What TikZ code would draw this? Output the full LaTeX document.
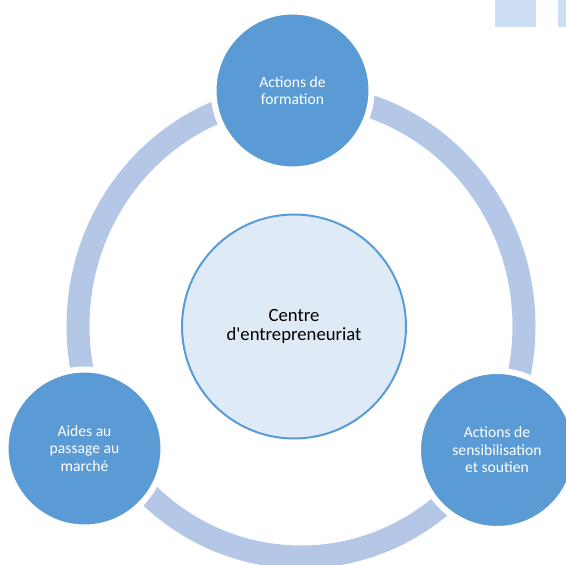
\documentclass[tikz,border=0pt]{standalone}
\usepackage{fontspec}
\setmainfont{Carlito}
\definecolor{nodeblue}{RGB}{91,155,213}
\definecolor{ringblue}{RGB}{180,199,231}
\definecolor{corefill}{RGB}{222,235,247}
\definecolor{tabblue}{RGB}{206,222,245}
\begin{document}
\begin{tikzpicture}[x=1pt,y=-1pt,
  cyclering/.style={draw=ringblue, line width=23pt},
  satellite/.style={circle, fill=nodeblue, draw=white, line width=6pt,
    minimum size=158pt, inner sep=0pt, text=white, align=center,
    font=\fontsize{15.6}{17.5}\selectfont},
  core/.style={circle, fill=corefill, draw=nodeblue, line width=2pt,
    minimum size=224pt, inner sep=0pt, align=center,
    font=\fontsize{18.7}{19.6}\selectfont},
  tab/.style={fill=tabblue}]
  \useasboundingbox (0,0) rectangle (566,565);
  \clip (0,0) rectangle (566,565);

  % small tabs in the upper right corner
  \fill[tab] (495,0) rectangle (536,27);
  \fill[tab] (558,0) rectangle (570,27);

  % the cycle ring behind the three stages
  \draw[cyclering] (301,326) ellipse [x radius=223pt, y radius=231pt];

  % hub
  \node[core] (hub) at (294,326.5) {Centre\\d\textquotesingle entrepreneuriat};

  % stages of the cycle
  \node[satellite] (formation) at (292.5,90.5) {Actions de\\formation};
  \node[satellite] (soutien) at (497,450) {Actions de\\sensibilisation\\et soutien};
  \node[satellite] (marche) at (84.5,448.5) {Aides au\\passage au\\marché};
\end{tikzpicture}
\end{document}
